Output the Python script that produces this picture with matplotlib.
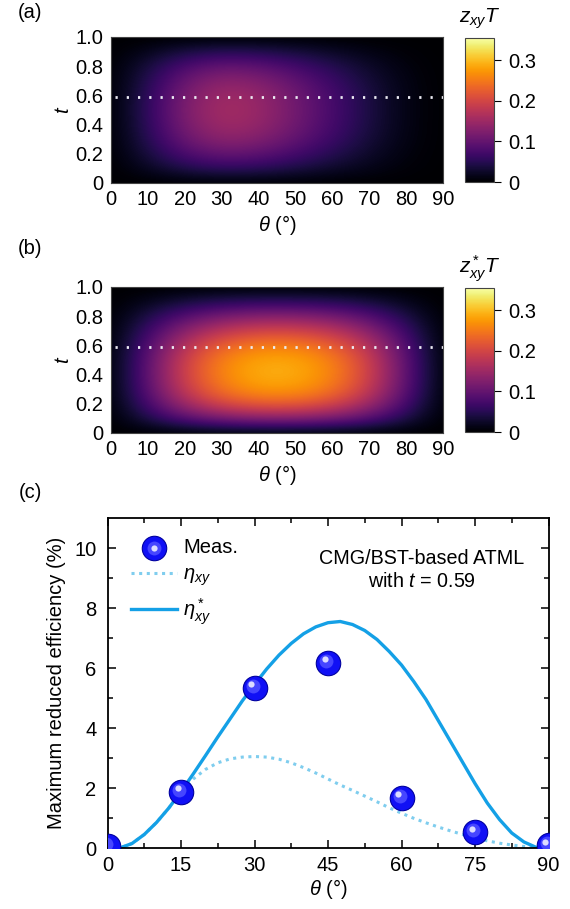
import numpy as np
import matplotlib
matplotlib.use("Agg")
import matplotlib.pyplot as plt
from matplotlib.transforms import offset_copy
from matplotlib.legend_handler import HandlerTuple

plt.rcParams["font.family"] = ["Liberation Sans", "DejaVu Sans"]
plt.rcParams["mathtext.fontset"] = "custom"
plt.rcParams["mathtext.rm"] = "Liberation Sans"
plt.rcParams["mathtext.it"] = "Liberation Sans:italic"
plt.rcParams["font.size"] = 14.5

# ---- heat map data (values read on a coarse grid) ----
theta_grid = [0, 10, 20, 30, 40, 50, 60, 70, 80, 90]
t_grid = [0, 0.1, 0.2, 0.3, 0.4, 0.5, 0.6, 0.7, 0.8, 0.9, 1.0]

zT_xy = [
    [0, 0, 0, 0, 0, 0, 0, 0, 0, 0],
    [0, 0.021, 0.045, 0.057, 0.053, 0.041, 0.027, 0.015, 0.005, 0],
    [0, 0.037, 0.080, 0.102, 0.095, 0.074, 0.049, 0.026, 0.008, 0],
    [0, 0.048, 0.106, 0.136, 0.127, 0.098, 0.066, 0.034, 0.011, 0],
    [0, 0.054, 0.119, 0.153, 0.143, 0.110, 0.074, 0.039, 0.012, 0],
    [0, 0.056, 0.124, 0.158, 0.147, 0.113, 0.076, 0.040, 0.012, 0],
    [0, 0.054, 0.119, 0.153, 0.143, 0.110, 0.074, 0.039, 0.012, 0],
    [0, 0.048, 0.106, 0.136, 0.127, 0.098, 0.066, 0.034, 0.011, 0],
    [0, 0.037, 0.080, 0.102, 0.095, 0.074, 0.049, 0.026, 0.008, 0],
    [0, 0.018, 0.040, 0.051, 0.048, 0.037, 0.025, 0.013, 0.004, 0],
    [0, 0, 0, 0, 0, 0, 0, 0, 0, 0],
]

zT_xy_star = [
    [0, 0, 0, 0, 0, 0, 0, 0, 0, 0],
    [0, 0.043, 0.088, 0.117, 0.130, 0.130, 0.117, 0.088, 0.043, 0],
    [0, 0.074, 0.153, 0.203, 0.225, 0.225, 0.203, 0.153, 0.074, 0],
    [0, 0.091, 0.187, 0.248, 0.275, 0.275, 0.248, 0.187, 0.091, 0],
    [0, 0.096, 0.197, 0.261, 0.290, 0.290, 0.261, 0.197, 0.096, 0],
    [0, 0.094, 0.194, 0.257, 0.285, 0.285, 0.257, 0.194, 0.094, 0],
    [0, 0.084, 0.173, 0.230, 0.255, 0.255, 0.230, 0.173, 0.084, 0],
    [0, 0.066, 0.136, 0.180, 0.200, 0.200, 0.180, 0.136, 0.066, 0],
    [0, 0.043, 0.088, 0.117, 0.130, 0.130, 0.117, 0.088, 0.043, 0],
    [0, 0.018, 0.037, 0.050, 0.055, 0.055, 0.050, 0.037, 0.018, 0],
    [0, 0, 0, 0, 0, 0, 0, 0, 0, 0],
]
t_cut = 0.59
cbar_ticks = [0, 0.1, 0.2, 0.3]

# ---- panel (c) data ----
theta_meas = [0, 15, 30, 45, 60, 75, 90]
eff_meas = [0.08, 1.88, 5.35, 6.17, 1.67, 0.53, 0.1]

theta_curve = [0, 2.5, 5, 7.5, 10, 12.5, 15, 17.5, 20, 22.5, 25, 27.5, 30, 32.5,
               35, 37.5, 40, 42.5, 45, 47.5, 50, 52.5, 55, 57.5, 60, 62.5, 65,
               67.5, 70, 72.5, 75, 77.5, 80, 82.5, 85, 87.5, 90]
eta_star = [0.08, 0.0, 0.15, 0.45, 0.85, 1.33, 1.88, 2.47, 3.08, 3.7, 4.3,
            4.9, 5.45, 5.97, 6.43, 6.82, 7.14, 7.37, 7.51, 7.55, 7.45, 7.25,
            6.95, 6.55, 6.1, 5.55, 4.95, 4.25, 3.55, 2.85, 2.15, 1.5, 0.95,
            0.5, 0.2, 0.02, 0.05]
eta = [0.08, 0.0, 0.15, 0.45, 0.85, 1.33, 1.86, 2.3, 2.62, 2.84, 2.97, 3.03,
       3.05, 3.03, 2.96, 2.84, 2.68, 2.5, 2.3, 2.1, 1.92, 1.73, 1.54, 1.34,
       1.16, 0.99, 0.84, 0.7, 0.57, 0.45, 0.34, 0.24, 0.16, 0.1, 0.05, 0.02,
       0.0]

W, H = 570, 909
fig = plt.figure(figsize=(W / 100, H / 100), dpi=100)


def box(x0, y0, x1, y1):
    # pixel box (top-left origin) -> figure fraction rect
    return [x0 / W, 1 - y1 / H, (x1 - x0) / W, (y1 - y0) / H]


def heat_panel(ax_rect, cax_rect, data, cblabel, letter, letter_y):
    ax = fig.add_axes(box(*ax_rect))
    cax = fig.add_axes(box(*cax_rect))
    dx = theta_grid[1] - theta_grid[0]
    dy = t_grid[1] - t_grid[0]
    im = ax.imshow(np.array(data), origin="lower", aspect="auto",
                   cmap="inferno", vmin=0, vmax=0.355, interpolation="bicubic",
                   extent=[theta_grid[0] - dx / 2, theta_grid[-1] + dx / 2,
                           t_grid[0] - dy / 2, t_grid[-1] + dy / 2])
    ax.plot([1, 90], [t_cut, t_cut], color="#ececf4", lw=2,
            linestyle=(0, (0.8, 3.25)))
    ax.set_xlim(0, 90)
    ax.set_ylim(0, 1)
    ax.set_xticks(range(0, 91, 10))
    ax.set_yticks([0, 0.2, 0.4, 0.6, 0.8, 1.0])
    ax.set_yticklabels(["0", "0.2", "0.4", "0.6", "0.8", "1.0"])
    ax.tick_params(length=0)
    ax.tick_params(axis="x", pad=5)
    ax.tick_params(axis="y", pad=5.5)
    for s in ax.spines.values():
        s.set_color("#444444")
        s.set_linewidth(0.8)
    ax.set_xlabel(r"$\theta$ (°)", labelpad=3)
    ax.set_ylabel(r"$t$", labelpad=2)

    cb = fig.colorbar(im, cax=cax, ticks=cbar_ticks)
    cb.ax.set_yticklabels(["0", "0.1", "0.2", "0.3"])
    cb.ax.tick_params(length=5, width=0.8, pad=5, direction="out")
    cb.outline.set_linewidth(0.8)
    cb.outline.set_edgecolor("#444444")
    cx = (cax_rect[0] + cax_rect[2]) / 2
    fig.text(cx / W, 1 - (cax_rect[1] - 19) / H, cblabel, ha="center",
             va="center", fontsize=15)
    fig.text(30 / W, 1 - letter_y / H, letter, ha="center", va="center",
             fontsize=14.5)


heat_panel((111, 37, 443, 183), (465, 38, 494, 182), zT_xy,
           r"$z_{xy}T$", "(a)", 12)
heat_panel((111, 287, 443, 433), (465, 288, 494, 432), zT_xy_star,
           r"$z^*_{xy}T$", "(b)", 248)

# ---- panel (c) ----
ax = fig.add_axes(box(107.5, 518, 548.5, 848))
l1, = ax.plot(theta_curve, eta, color="#7fcdee", lw=2.2,
              linestyle=(0, (1, 1.5)))
l2, = ax.plot(theta_curve, eta_star, color="#14a0e6", lw=2.4)
sc = ax.scatter(theta_meas, eff_meas, s=310, color="#1010f5",
                edgecolor="#0000a0", linewidth=0.8, zorder=5)
t1 = offset_copy(ax.transData, fig=fig, x=-2, y=2, units="dots")
t2 = offset_copy(ax.transData, fig=fig, x=-3.5, y=3.5, units="dots")
sc2 = ax.scatter(theta_meas, eff_meas, s=100, color="#4646ff", lw=0,
                 transform=t1, zorder=6)
sc3 = ax.scatter(theta_meas, eff_meas, s=20, color="#dcdcff", lw=0,
                 transform=t2, zorder=7)

ax.set_xlim(0, 90)
ax.set_ylim(0, 11)
ax.set_xticks(range(0, 91, 15))
ax.set_xticks(np.arange(7.5, 90, 15), minor=True)
ax.set_yticks(range(0, 11, 2))
ax.set_yticks(range(1, 11, 2), minor=True)
ax.tick_params(which="both", direction="in", top=True, right=True, width=1.1)
ax.tick_params(which="major", length=6)
ax.tick_params(which="minor", length=3.5)
ax.tick_params(axis="x", which="major", pad=6)
ax.tick_params(axis="y", which="major", pad=8)
for s in ax.spines.values():
    s.set_linewidth(1.3)
ax.set_xlabel(r"$\theta$ (°)", labelpad=1)
ax.set_ylabel("Maximum reduced efficiency (%)", labelpad=6)

ax.legend([(sc, sc2, sc3), l1, l2],
          ["Meas.", r"$\eta_{xy}$", r"$\eta^*_{xy}$"],
          handler_map={tuple: HandlerTuple(ndivide=1, pad=0)},
          loc="upper left", bbox_to_anchor=(0.053, 0.94), frameon=False,
          borderpad=0, borderaxespad=0, handlelength=2.3,
          handletextpad=0.3, labelspacing=0.4, fontsize=14.5)
ax.text(0.713, 0.842, "CMG/BST-based ATML\nwith $t$ = 0.59",
        transform=ax.transAxes, ha="center", va="center", fontsize=14.2,
        linespacing=1.3)
fig.text(30 / W, 1 - 493 / H, "(c)", ha="center", va="center", fontsize=14.5)

fig.savefig("out.png", dpi=100)
